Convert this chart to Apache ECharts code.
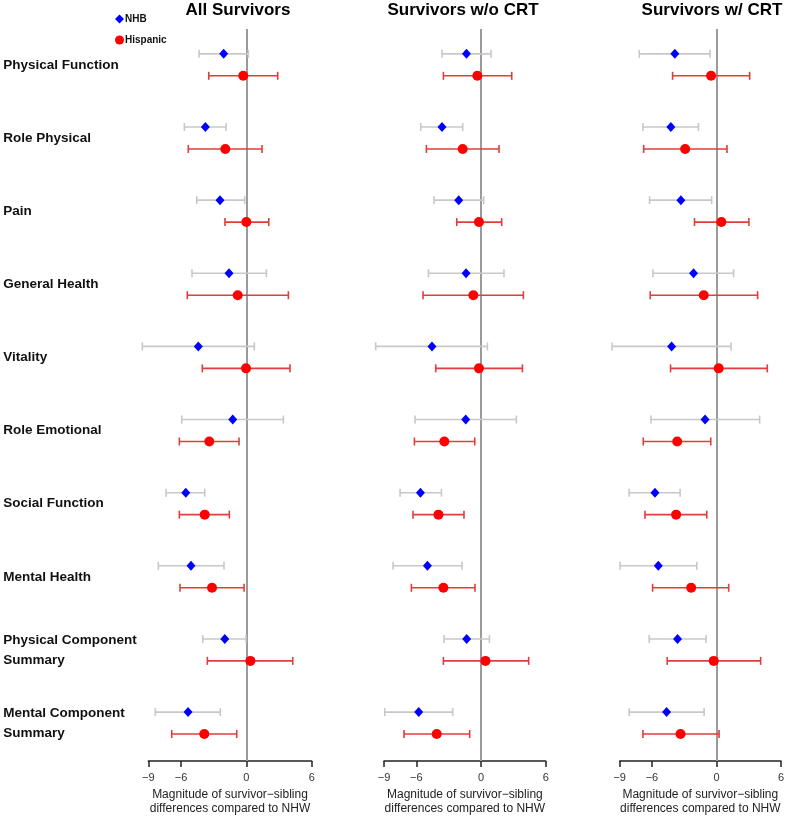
<!DOCTYPE html>
<html>
<head>
<meta charset="utf-8">
<script src="https://cdn.jsdelivr.net/npm/echarts@6/dist/echarts.min.js"></script>
<style>
html,body{margin:0;padding:0;background:#fff;}
#chart{width:787px;height:821px;}
</style>
</head>
<body>
<div id="chart"></div>
<script>
// ---- data ----
const measures = ['Physical Function','Role Physical','Pain','General Health','Vitality',
  'Role Emotional','Social Function','Mental Health','Physical Component\nSummary','Mental Component\nSummary'];
const panelTitles = ['All Survivors','Survivors w/o CRT','Survivors w/ CRT'];
const groupNames = ['NHB','Hispanic'];
const xTicks = [-9,-6,0,6];
const axisTitle = 'Magnitude of survivor\u2212sibling\ndifferences compared to NHW';

// [estimate, lower, upper]
const allNHB = [[-2.08,-4.34,0.18],[-3.76,-5.69,-1.86],[-2.42,-4.55,-0.15],[-1.59,-4.99,1.84],[-4.41,-9.55,0.73],
  [-1.25,-5.93,3.40],[-5.56,-7.37,-3.82],[-5.08,-8.08,-2.05],[-1.98,-4.00,-0.03],[-5.35,-8.36,-2.39]];
const allHisp = [[-0.28,-3.45,2.88],[-1.93,-5.33,1.44],[0.00,-1.96,2.06],[-0.79,-5.42,3.86],[-0.03,-4.04,4.01],
  [-3.40,-6.15,-0.67],[-3.82,-6.15,-1.56],[-3.15,-6.09,-0.21],[0.37,-3.58,4.26],[-3.86,-6.85,-0.88]];
const noCrtNHB = [[-1.35,-3.62,0.93],[-3.62,-5.59,-1.70],[-2.07,-4.36,0.25],[-1.39,-4.88,2.13],[-4.55,-9.77,0.59],
  [-1.42,-6.12,3.28],[-5.62,-7.51,-3.67],[-4.97,-8.16,-1.76],[-1.33,-3.43,0.78],[-5.78,-8.93,-2.63]];
const noCrtHisp = [[-0.34,-3.49,2.85],[-1.70,-5.07,1.67],[-0.19,-2.25,1.92],[-0.71,-5.38,3.93],[-0.19,-4.20,3.84],
  [-3.40,-6.18,-0.58],[-3.95,-6.31,-1.58],[-3.49,-6.46,-0.56],[0.41,-3.49,4.42],[-4.11,-7.14,-1.05]];
const crtNHB = [[-3.87,-7.18,-0.59],[-4.24,-6.84,-1.67],[-3.31,-6.22,-0.44],[-2.13,-5.91,1.60],[-4.17,-9.71,1.36],
  [-1.06,-6.09,4.02],[-5.72,-8.13,-3.38],[-5.41,-8.97,-1.83],[-3.62,-6.25,-0.96],[-4.64,-8.11,-1.15]];
const crtHisp = [[-0.50,-4.08,3.09],[-2.91,-6.77,0.98],[0.46,-2.04,3.02],[-1.18,-6.16,3.83],[0.21,-4.27,4.73],
  [-3.65,-6.81,-0.53],[-3.75,-6.65,-0.90],[-2.35,-5.94,1.14],[-0.25,-4.58,4.11],[-3.34,-6.84,0.24]];

// ---- layout ----
const FONT = '"Liberation Sans", Arial, Helvetica, sans-serif';
const panels = [
  {title: panelTitles[0], nhb: allNHB, hisp: allHisp, left: 148.3, width: 163.4, titleX: 238},
  {title: panelTitles[1], nhb: noCrtNHB, hisp: noCrtHisp, left: 384, width: 161.7, titleX: 463},
  {title: panelTitles[2], nhb: crtNHB, hisp: crtHisp, left: 619.7, width: 161.6, titleX: 712}
];
const GRID_TOP = 29, GRID_H = 734;
const Y_MIN = -0.34, Y_MAX = 9.67;
const HISP_OFF = 0.3;
const styles = {
  NHB: {bar: '#c8c8c8', point: '#0000ff', symbol: 'diamond', size: [9, 10], off: 0},
  Hispanic: {bar: '#e23c3c', point: '#ff0000', symbol: 'circle', size: 10, off: HISP_OFF}
};

function errRender(color) {
  return function (params, api) {
    const y = api.value(3);
    const a = api.coord([api.value(1), y]);
    const b = api.coord([api.value(2), y]);
    const cap = 4;
    const st = {stroke: color, lineWidth: 1.6};
    return {type: 'group', children: [
      {type: 'line', shape: {x1: a[0], y1: a[1], x2: b[0], y2: b[1]}, style: st},
      {type: 'line', shape: {x1: a[0], y1: a[1] - cap, x2: a[0], y2: a[1] + cap}, style: st},
      {type: 'line', shape: {x1: b[0], y1: b[1] - cap, x2: b[0], y2: b[1] + cap}, style: st}
    ]};
  };
}

const grids = [], xAxes = [], yAxes = [], series = [], titles = [];
panels.forEach((p, k) => {
  grids.push({left: p.left, width: p.width, top: GRID_TOP, height: GRID_H, containLabel: false});
  titles.push({text: p.title, left: p.titleX, top: 2, textAlign: 'center', padding: 0,
    textStyle: {fontFamily: FONT, fontSize: 17, fontWeight: 'bold', color: '#000'}});
  xAxes.push({
    type: 'value', gridIndex: k, min: -9, max: 6, position: 'bottom',
    name: axisTitle, nameLocation: 'middle', nameGap: 23,
    nameTextStyle: {fontFamily: FONT, fontSize: 12, color: '#222', lineHeight: 14},
    axisLine: {show: true, onZero: false, lineStyle: {color: '#222', width: 1.5}},
    axisTick: {show: true, length: 6, customValues: xTicks, lineStyle: {color: '#222', width: 1.5}},
    axisLabel: {customValues: xTicks, margin: 11, fontFamily: FONT, fontSize: 11, color: '#333',
      formatter: v => String(v).replace('-', '\u2212')},
    splitLine: {show: false}
  });
  const yAx = {
    type: 'value', gridIndex: k, min: Y_MIN, max: Y_MAX, inverse: true,
    axisLine: {show: false, onZero: false}, axisTick: {show: false}, splitLine: {show: false},
    axisLabel: {show: false}
  };
  if (k === 0) {
    yAx.axisLabel = {
      show: true,
      customValues: measures.map((m, i) => i + HISP_OFF / 2),
      formatter: v => measures[Math.round(v - HISP_OFF / 2)] || '',
      align: 'left', margin: 145, fontFamily: FONT, fontSize: 13.5, fontWeight: 'bold',
      color: '#111', lineHeight: 20
    };
  }
  yAxes.push(yAx);

  [['NHB', p.nhb], ['Hispanic', p.hisp]].forEach(([g, arr], gi) => {
    const s = styles[g];
    const errData = arr.map((d, i) => [d[0], d[1], d[2], i + s.off]);
    const bar = {
      type: 'custom', name: g + ' CI', xAxisIndex: k, yAxisIndex: k, clip: false,
      renderItem: errRender(s.bar), data: errData,
      encode: {x: [1, 2], y: 3}, z: 2, silent: true
    };
    if (gi === 0) {
      bar.markLine = {
        silent: true, symbol: ['none', 'none'], label: {show: false},
        lineStyle: {color: '#9a9a9a', width: 2, type: 'solid'},
        data: [{xAxis: 0}], z: 1
      };
    }
    series.push(bar);
  });
  [['NHB', p.nhb], ['Hispanic', p.hisp]].forEach(([g, arr]) => {
    const s = styles[g];
    series.push({
      type: 'scatter', name: g, xAxisIndex: k, yAxisIndex: k, clip: false,
      symbol: s.symbol, symbolSize: s.size, z: 5,
      itemStyle: {color: s.point, opacity: 1},
      data: arr.map((d, i) => [d[0], i + s.off]), silent: true
    });
  });
});

const chart = echarts.init(document.getElementById('chart'), null, {renderer: 'canvas'});
chart.setOption({
  animation: false,
  backgroundColor: '#fff',
  title: titles,
  legend: {
    data: [{name: 'NHB', icon: 'diamond'}, {name: 'Hispanic', icon: 'circle'}],
    orient: 'vertical', left: 115, top: 14, itemWidth: 9, itemHeight: 9, itemGap: 11,
    selectedMode: false, padding: 0,
    textStyle: {fontFamily: FONT, fontSize: 10, fontWeight: 'bold', color: '#111', padding: [0, 0, 0, -4]}
  },
  grid: grids, xAxis: xAxes, yAxis: yAxes, series: series
});
</script>
</body>
</html>
